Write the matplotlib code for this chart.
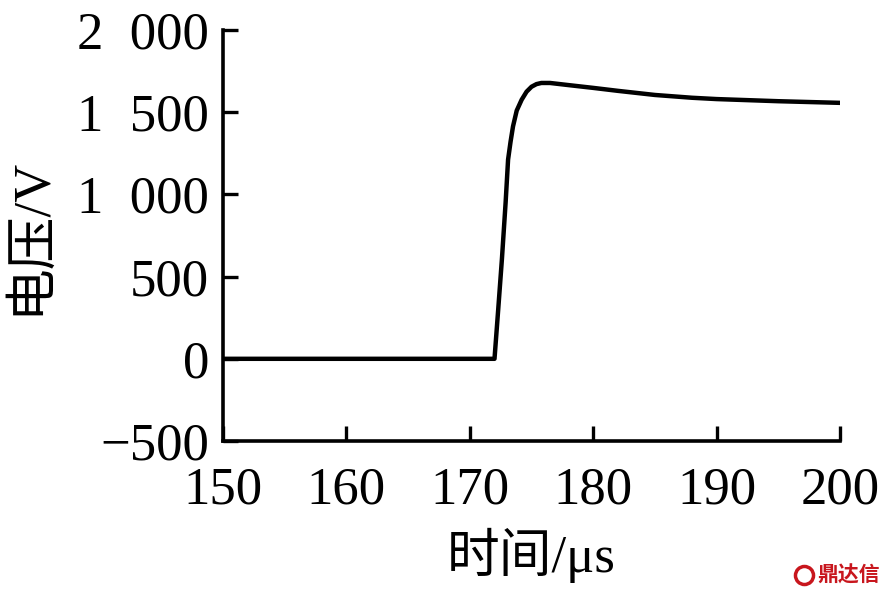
import matplotlib
matplotlib.use("Agg")
import matplotlib.pyplot as plt
from matplotlib.lines import Line2D
from matplotlib.ticker import FixedLocator, FuncFormatter

# voltage waveform
time_us = [150, 172.0, 172.3, 172.6, 172.9, 173.1, 173.3, 173.5, 173.8, 174.2,
           174.6, 175.0, 175.4, 175.8, 176.5, 178, 180, 182, 185, 188, 190, 195, 200]
voltage = [0, 0, 300, 606, 950, 1212, 1320, 1414, 1510, 1576,
           1625, 1655, 1671, 1678, 1678, 1665, 1648, 1630, 1605, 1588, 1580, 1567, 1557]

x_ticks = [150, 160, 170, 180, 190, 200]
y_ticks = [-500, 0, 500, 1000, 1500, 2000]

plt.rcParams['font.family'] = ['Liberation Serif', 'Noto Sans CJK SC']

fig = plt.figure(figsize=(8.91, 5.97), dpi=100)
ax = fig.add_axes([0.2503, 0.2613, 0.6925, 0.6884])

ax.plot(time_us, voltage, color='black', linewidth=3.2,
        solid_joinstyle='round', solid_capstyle='round')

ax.set_xlim(150, 200)
ax.set_ylim(-500, 2000)
ax.xaxis.set_major_locator(FixedLocator(x_ticks))
ax.yaxis.set_major_locator(FixedLocator(y_ticks))


def fmt_y(v, pos):
    v = int(round(v))
    s = f"{abs(v):,}".replace(",", "\u2002")
    return ("\u2212" if v < 0 else "") + s


ax.yaxis.set_major_formatter(FuncFormatter(fmt_y))

for side in ['top', 'right']:
    ax.spines[side].set_visible(False)
for side in ['left', 'bottom']:
    ax.spines[side].set_linewidth(2.6)

ax.tick_params(direction='in', length=11, width=2.4, labelsize=38)
ax.tick_params(axis='x', pad=18)
ax.tick_params(axis='y', pad=10)

ax.set_xlabel("时间/μs", fontsize=38, labelpad=10)
ax.set_ylabel("电压/V", fontsize=38, labelpad=16)

# watermark
fig.add_artist(Line2D([0.902], [0.037], marker='o', markersize=13,
                      markerfacecolor='white', markeredgecolor='#c8161d',
                      markeredgewidth=2.5, transform=fig.transFigure))
fig.text(0.988, 0.037, "鼎达信", color='#c8161d', fontsize=15, fontweight='bold',
         ha='right', va='center', family=['Noto Sans CJK SC'])

fig.savefig("out.png", dpi=100)
